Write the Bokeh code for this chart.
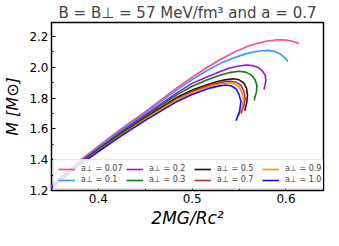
from bokeh.plotting import figure
from bokeh.models import Legend, LegendItem, Range1d, FixedTicker, PrintfTickFormatter
from bokeh.embed import file_html
from bokeh.resources import INLINE

labels = ["a⊥ = 0.07", "a⊥ = 0.1", "a⊥ = 0.2", "a⊥ = 0.3",
          "a⊥ = 0.5", "a⊥ = 0.7", "a⊥ = 0.9", "a⊥ = 1.0"]
colors = ["#ff4499", "#3399ff", "#9b10dd", "#117a11",
          "#3a0808", "#a83232", "#ff8c00", "#1010ff"]

c_007 = [0.340, 0.360, 0.378, 0.400, 0.422, 0.450, 0.484, 0.500, 0.515, 0.530, 0.546, 0.560, 0.570, 0.580, 0.591, 0.600, 0.607, 0.614]
m_007 = [1.180, 1.290, 1.384, 1.488, 1.590, 1.712, 1.868, 1.935, 1.995, 2.050, 2.101, 2.138, 2.155, 2.170, 2.178, 2.176, 2.168, 2.153]
c_01 = [0.340, 0.360, 0.378, 0.400, 0.422, 0.450, 0.484, 0.500, 0.515, 0.530, 0.546, 0.558, 0.568, 0.575, 0.581, 0.588, 0.594, 0.599, 0.602]
m_01 = [1.175, 1.285, 1.378, 1.480, 1.580, 1.702, 1.855, 1.920, 1.975, 2.025, 2.065, 2.088, 2.102, 2.107, 2.109, 2.102, 2.085, 2.060, 2.035]
c_02 = [0.340, 0.360, 0.378, 0.400, 0.422, 0.450, 0.484, 0.500, 0.515, 0.530, 0.540, 0.550, 0.558, 0.565, 0.571, 0.575, 0.578, 0.5785, 0.5775, 0.5765]
m_02 = [1.170, 1.280, 1.372, 1.472, 1.570, 1.690, 1.835, 1.895, 1.935, 1.972, 1.995, 2.008, 2.014, 2.010, 1.996, 1.975, 1.945, 1.910, 1.880, 1.855]
c_03 = [0.340, 0.360, 0.378, 0.400, 0.422, 0.450, 0.484, 0.500, 0.515, 0.528, 0.540, 0.5495, 0.557, 0.563, 0.567, 0.569, 0.5685, 0.567, 0.566]
m_03 = [1.168, 1.278, 1.370, 1.468, 1.565, 1.683, 1.822, 1.876, 1.915, 1.945, 1.965, 1.974, 1.968, 1.950, 1.920, 1.879, 1.840, 1.808, 1.784]
c_05 = [0.340, 0.360, 0.378, 0.400, 0.422, 0.450, 0.484, 0.500, 0.515, 0.525, 0.535, 0.544, 0.550, 0.555, 0.558, 0.559, 0.558, 0.556]
m_05 = [1.165, 1.275, 1.366, 1.462, 1.558, 1.672, 1.805, 1.852, 1.885, 1.904, 1.918, 1.925, 1.918, 1.898, 1.862, 1.818, 1.765, 1.717]
c_07 = [0.340, 0.360, 0.378, 0.400, 0.422, 0.450, 0.484, 0.500, 0.515, 0.525, 0.533, 0.541, 0.547, 0.552, 0.555, 0.5565, 0.555, 0.552]
m_07 = [1.163, 1.273, 1.364, 1.460, 1.554, 1.667, 1.797, 1.842, 1.875, 1.893, 1.903, 1.909, 1.902, 1.882, 1.845, 1.798, 1.748, 1.700]
c_09 = [0.340, 0.360, 0.378, 0.400, 0.422, 0.450, 0.484, 0.500, 0.512, 0.522, 0.531, 0.539, 0.545, 0.550, 0.553, 0.5547, 0.553, 0.5495]
m_09 = [1.161, 1.271, 1.362, 1.457, 1.550, 1.662, 1.790, 1.834, 1.862, 1.881, 1.893, 1.899, 1.892, 1.872, 1.835, 1.788, 1.735, 1.687]
c_10 = [0.340, 0.360, 0.378, 0.400, 0.422, 0.450, 0.484, 0.498, 0.510, 0.520, 0.529, 0.536, 0.542, 0.547, 0.550, 0.552, 0.5505, 0.5468]
m_10 = [1.158, 1.268, 1.358, 1.453, 1.545, 1.655, 1.778, 1.818, 1.846, 1.866, 1.879, 1.885, 1.878, 1.858, 1.822, 1.778, 1.715, 1.653]

series_c = [c_007, c_01, c_02, c_03, c_05, c_07, c_09, c_10]
series_m = [m_007, m_01, m_02, m_03, m_05, m_07, m_09, m_10]

x_ticks = [0.4, 0.5, 0.6]
y_ticks = [1.2, 1.4, 1.6, 1.8, 2.0, 2.2]

p = figure(width=325, height=230, output_backend="svg", toolbar_location=None,
           x_range=Range1d(0.350, 0.640), y_range=Range1d(1.2, 2.29),
           min_border_left=43, min_border_right=2, min_border_bottom=37, min_border_top=4)

p.title.text = "B = B⊥ = 57 MeV/fm³ and a = 0.7"
p.title.align = "center"
p.title.text_font = "DejaVu Sans"
p.title.text_font_size = "15px"
p.title.text_font_style = "normal"
p.title.standoff = 2

p.grid.visible = False
p.outline_line_color = "black"
p.outline_line_width = 1.5
p.outline_line_alpha = 1.0

for ax in (p.xaxis, p.yaxis):
    ax.axis_line_color = None
    ax.major_tick_in = 4
    ax.major_tick_out = 0
    ax.minor_tick_in = 2
    ax.minor_tick_out = 0
    ax.major_tick_line_color = "black"
    ax.minor_tick_line_color = "black"
    ax.major_label_text_font = "DejaVu Sans"
    ax.major_label_text_font_size = "12px"
    ax.major_label_text_color = "black"
    ax.axis_label_text_font = "DejaVu Sans"
    ax.axis_label_text_font_style = "italic"
    ax.axis_label_text_color = "black"

p.xaxis.ticker = FixedTicker(ticks=x_ticks, minor_ticks=[0.35, 0.45, 0.55])
p.yaxis.ticker = FixedTicker(ticks=y_ticks, minor_ticks=[1.3, 1.5, 1.7, 1.9, 2.1])
p.xaxis.formatter = PrintfTickFormatter(format="%.1f")
p.yaxis.formatter = PrintfTickFormatter(format="%.1f")
p.xaxis.axis_label = "2MG/Rc²"
p.xaxis.axis_label_text_font_size = "17px"
p.xaxis.axis_label_standoff = 2
p.xaxis.major_label_standoff = 3
p.yaxis.axis_label = "M [M⊙]"
p.yaxis.axis_label_text_font_size = "16px"
p.yaxis.axis_label_standoff = 4
p.yaxis.major_label_standoff = 3

items = []
for c, m, col, lab in zip(series_c, series_m, colors, labels):
    r = p.line(c, m, line_color=col, line_width=1.6, line_join="round")
    items.append(LegendItem(label=lab, renderers=[r]))

legend = Legend(items=items, location=(2, 1), orientation="vertical", ncols=4,
                label_text_font="DejaVu Sans", label_text_font_size="8px",
                glyph_width=17, glyph_height=8, label_height=9, label_width=43,
                label_standoff=6, spacing=2, padding=4, margin=0,
                border_line_color="#cccccc", border_line_width=1,
                background_fill_alpha=0.85)
p.add_layout(legend, "center")

open("out.html", "w").write(file_html(p, INLINE))
